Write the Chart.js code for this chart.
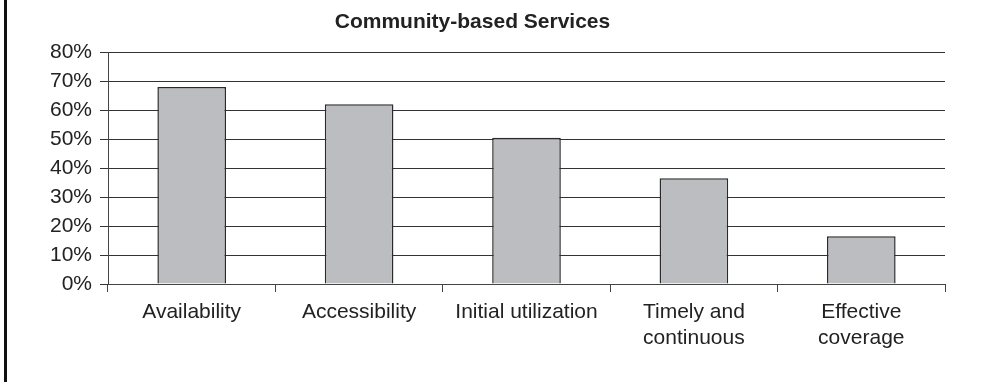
<!DOCTYPE html>
<html>
<head>
<meta charset="utf-8">
<script src="https://cdn.jsdelivr.net/npm/chart.js@4"></script>
<style>
  html, body { margin: 0; padding: 0; background: #fff; }
  #wrap { width: 991px; height: 382px; }
</style>
</head>
<body>
<div id="wrap"><canvas id="chart" width="991" height="382"></canvas></div>
<script>
const categories = ["Availability", "Accessibility", "Initial utilization", ["Timely and", "continuous"], ["Effective", "coverage"]];
const coverage = [68, 62, 50.5, 36.5, 16.5];
const yTicks = [0, 10, 20, 30, 40, 50, 60, 70, 80];

const leftRule = {
  id: "leftRule",
  afterDraw(chart) {
    const ctx = chart.ctx;
    ctx.save();
    ctx.fillStyle = "#111";
    ctx.fillRect(4, 0, 3, chart.height);
    ctx.restore();
  }
};

Chart.defaults.font.family = "'Liberation Sans', Arial, sans-serif";
Chart.defaults.color = "#222";

new Chart(document.getElementById("chart").getContext("2d"), {
  type: "bar",
  data: {
    labels: categories,
    datasets: [{
      data: coverage,
      backgroundColor: "#bcbdc1",
      borderColor: "#2a2a2a",
      borderWidth: 1.5,
      categoryPercentage: 0.82,
      barPercentage: 0.5
    }]
  },
  options: {
    responsive: false,
    animation: false,
    layout: { padding: { left: 0, right: 46, top: 0, bottom: 0 } },
    plugins: {
      legend: { display: false },
      tooltip: { enabled: false },
      title: {
        display: true,
        text: "Community-based Services",
        font: { size: 21, weight: "bold" },
        color: "#222",
        padding: { top: 10, bottom: 17 }
      }
    },
    scales: {
      x: {
        grid: { drawOnChartArea: false, drawTicks: true, tickLength: 8, color: "#444", offset: true },
        border: { color: "#444", width: 1 },
        ticks: { font: { size: 21 }, padding: 8, maxRotation: 0, autoSkip: false },
        afterFit(scale) { scale.height = 98; }
      },
      y: {
        min: 0,
        max: 80,
        afterBuildTicks(scale) { scale.ticks = yTicks.map(v => ({ value: v })); },
        grid: { color: "#333", tickLength: 8, lineWidth: 1 },
        border: { color: "#444", width: 1 },
        ticks: { font: { size: 21 }, padding: 8, callback: v => v + "%" },
        afterFit(scale) { scale.width = 108; }
      }
    }
  },
  plugins: [leftRule]
});
</script>
</body>
</html>
